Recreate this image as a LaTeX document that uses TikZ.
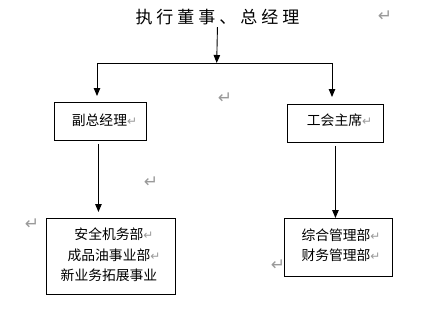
\documentclass[tikz,border=0pt]{standalone}
\usepackage{fontspec}
\newfontfamily\cjk{Noto Sans CJK SC}
\newfontfamily\symfont{DejaVu Sans}
\usetikzlibrary{arrows.meta}
\definecolor{markgray}{HTML}{9A9A9A}
\newcommand\pmk{\rlap{\textcolor{markgray}{\symfont\fontsize{12}{12}\selectfont ↵}}}
\begin{document}
\begin{tikzpicture}[x=1pt,y=-1pt,
  box/.style={draw,line width=0.9pt,inner sep=0pt,anchor=north west},
  lbl/.style={font=\cjk\fontsize{13.8}{20.5}\selectfont,inner sep=0pt,align=center},
  pm/.style={font=\symfont\fontsize{17}{17}\selectfont,text=markgray,inner sep=0pt},
  arr/.style={-{Triangle[length=8pt,width=6.5pt]},line width=0.9pt},
  ln/.style={line width=0.9pt}]
\useasboundingbox (0,0) rectangle (424,314);
% title
\node[font=\cjk\fontsize{17}{17}\selectfont,inner sep=0pt] (title) at (217.5,17)
  {执\hspace{4pt}行\hspace{4pt}董\hspace{4pt}事\hspace{4pt}、\hspace{4pt}总\hspace{4pt}经\hspace{4pt}理};
\node[pm] (m0) at (385,16) {↵};
% boxes
\node[box,minimum width=92pt,minimum height=38pt] (b1) at (54,102) {};
\node[box,minimum width=96pt,minimum height=38pt] (b2) at (287,104) {};
\node[box,minimum width=129pt,minimum height=76pt] (b3) at (46,218) {};
\node[box,minimum width=108pt,minimum height=58pt] (b4) at (284,218) {};
% texts
\node[lbl] (t1) at (99.5,120) {副总经理\pmk};
\node[lbl] (t2) at (334.5,120) {工会主席\pmk};
\node[lbl] (t3) at (109,255) {安全机务部\pmk\\成品油事业部\pmk\\新业务拓展事业};
\node[lbl] (t4) at (336,245) {综合管理部\pmk\\财务管理部\pmk};
% loose paragraph marks
\node[pm] (m1) at (225,98) {↵};
\node[pm] (m2) at (151,182) {↵};
\node[pm] (m3) at (32,224) {↵};
\node[pm] (m4) at (278,265) {↵};
% connectors
\coordinate (j) at (216.7,63);
\coordinate (jl) at (97,63);
\coordinate (jr) at (332,63);
\draw[arr,shorten <=2pt] (title.south) -- (j);
\draw[ln] (jl) -- (jr);
\draw[arr,shorten >=6pt] (jl) -- (jl |- b1.north);
\draw[arr,shorten >=7pt] (jr) -- (jr |- b2.north);
\draw[arr,shorten <=3pt,shorten >=6pt] ([xshift=-2pt]b1.south) -- ([xshift=-2pt]b1.south |- b3.north);
\draw[arr,shorten <=3pt] (b2.south) -- (b2.south |- b4.north);
\end{tikzpicture}
\end{document}
